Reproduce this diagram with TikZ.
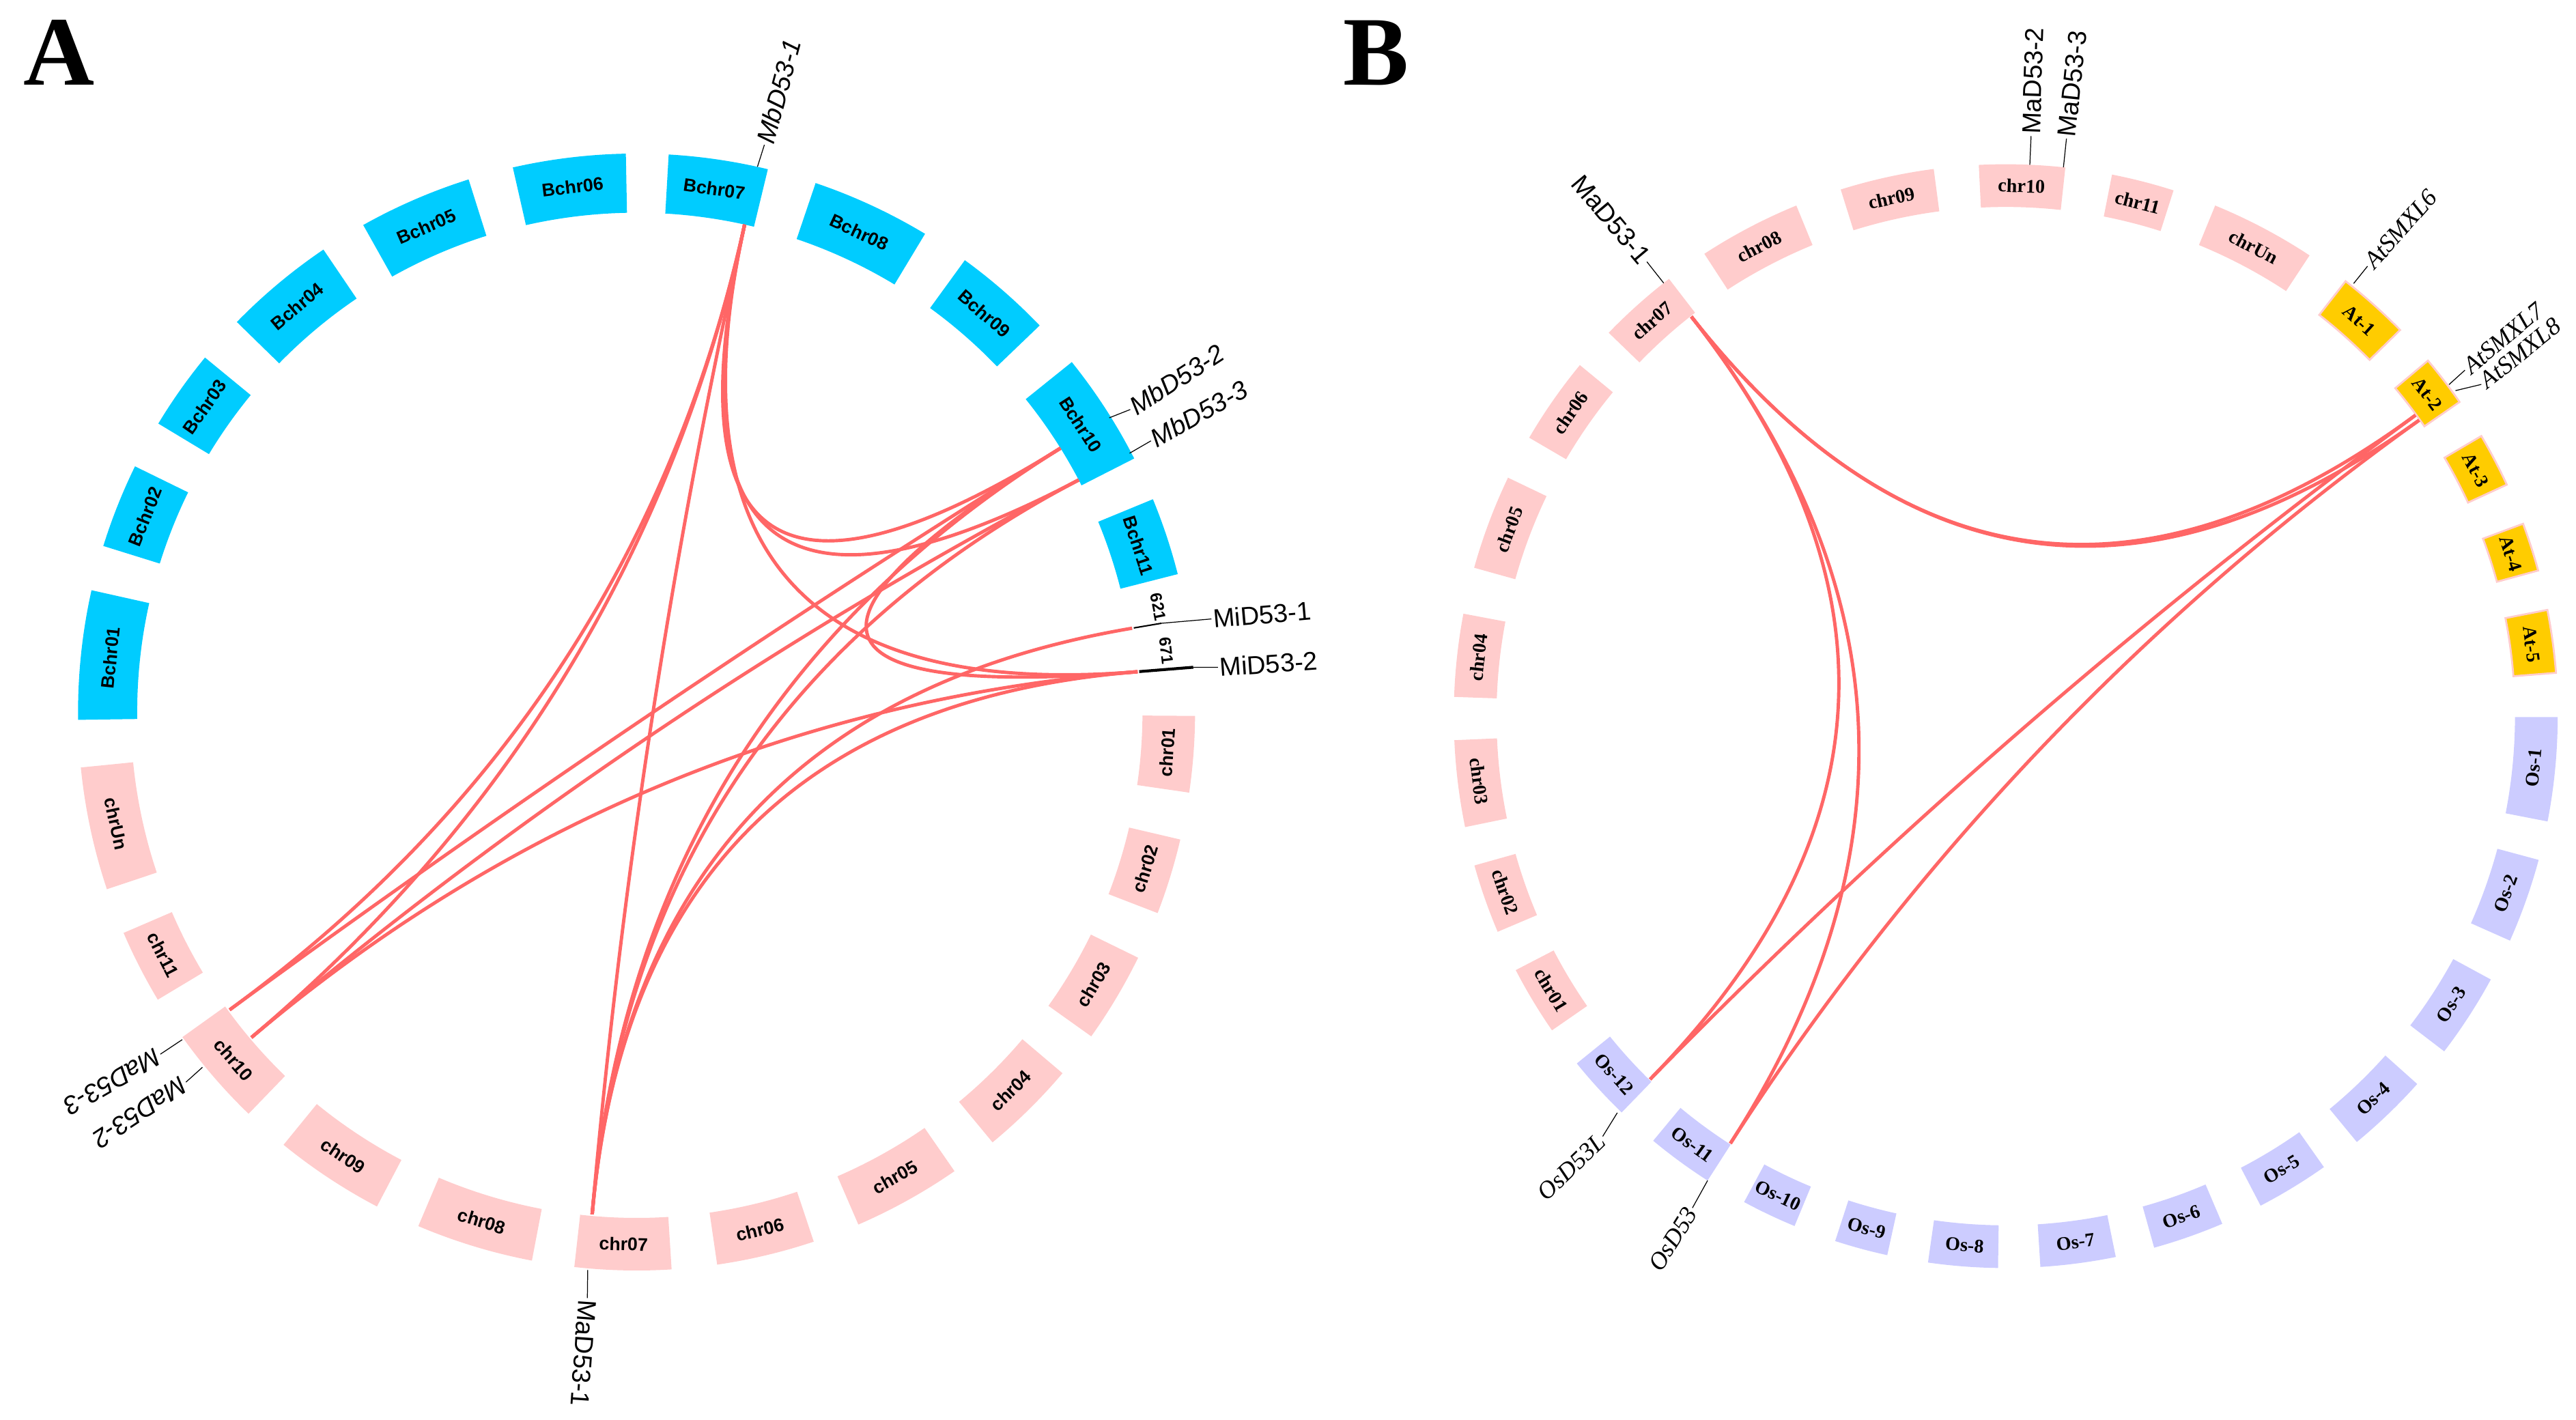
\documentclass[tikz,border=0pt]{standalone}
\usepackage{fontspec}
\setmainfont{Liberation Serif}
\setsansfont{Liberation Sans}
\usetikzlibrary{calc}
\definecolor{bcyan}{HTML}{00CCFF}
\definecolor{cpink}{HTML}{FFCCCC}
\definecolor{atyel}{HTML}{FFCC00}
\definecolor{oslav}{HTML}{CCCCFF}
\definecolor{lnkred}{HTML}{FF6666}
% #1 name #2 a1 #3 a2 #4 rin #5 rout #6 fill style #7 label style #8 text
\newcommand\ringseg[8]{%
  \path[#6] (#2:#4) arc[start angle=#2,end angle=#3,radius=#4] -- (#3:#5) arc[start angle=#3,end angle=#2,radius=#5] -- cycle;
  \pgfmathsetmacro\segmid{(#2+#3)/2}%
  \pgfmathsetmacro\segrad{(#4+#5)/2}%
  \pgfmathsetmacro\segrot{mod(\segmid+720,360)<180 ? \segmid-90 : \segmid+90}%
  \node[#7, rotate=\segrot] (#1) at (\segmid:\segrad) {#8};
}
\newcommand\glink[3]{\draw[linkline] (#1) .. controls ($(#1)!0.6667!(#3)$) and ($(#2)!0.6667!(#3)$) .. (#2);}
\begin{document}
\begin{tikzpicture}[x=0.02406cm,y=0.02406cm,
  alab/.style={font=\sffamily\bfseries\fontsize{7.6}{8}\selectfont, inner sep=0pt},
  blab/.style={font=\rmfamily\bfseries\fontsize{8}{9}\selectfont, inner sep=0pt},
  linkline/.style={draw=lnkred, line width=1.4pt},
  tickline/.style={draw=black, line width=0.35pt},
  gsans/.style={font=\sffamily\fontsize{10.8}{12}\selectfont, inner sep=0.6pt},
  gsansit/.style={font=\sffamily\itshape\fontsize{10.8}{12}\selectfont, inner sep=0.6pt},
  gserif/.style={font=\rmfamily\itshape\fontsize{10.3}{12}\selectfont, inner sep=0.6pt},
  scaf/.style={font=\sffamily\bfseries\fontsize{6.8}{7}\selectfont, inner sep=0pt},
  panel/.style={font=\rmfamily\bfseries\fontsize{41}{45}\selectfont, inner sep=0pt},
  atband/.style={fill=atyel, draw=cpink, line width=0.8pt},
  osband/.style={fill=oslav},
  pkband/.style={fill=cpink},
  cyband/.style={fill=bcyan}
]
\useasboundingbox (0,0) rectangle (1568.16,864.09);

\node[panel] (pA) at (35.8,831.9) {A};
\node[panel] (pB) at (837.5,831.9) {B};

% ================= Panel A =================
\begin{scope}[shift={(387.5,430.6)}]
\coordinate (OA) at (0,0);
\ringseg{Bchr01}{167.4}{180.8}{304}{340}{cyband}{alab}{Bchr01}
\ringseg{Bchr02}{153.9}{162.7}{304}{340}{cyband}{alab}{Bchr02}
\ringseg{Bchr03}{140.6}{148.9}{304}{340}{cyband}{alab}{Bchr03}
\ringseg{Bchr04}{124.1}{135.7}{304}{340}{cyband}{alab}{Bchr04}
\ringseg{Bchr05}{107.5}{119.3}{304}{340}{cyband}{alab}{Bchr05}
\ringseg{Bchr06}{91.1}{102.8}{304}{340}{cyband}{alab}{Bchr06}
\ringseg{Bchr07}{76.4}{86.7}{304}{340}{cyband}{alab}{Bchr07}
\ringseg{Bchr08}{58.9}{71.3}{304}{340}{cyband}{alab}{Bchr08}
\ringseg{Bchr09}{43.8}{54.0}{304}{340}{cyband}{alab}{Bchr09}
\ringseg{Bchr10}{27.0}{38.8}{304}{340}{cyband}{alab}{Bchr10}
\ringseg{Bchr11}{14.3}{22.4}{304}{340}{cyband}{alab}{Bchr11}
\ringseg{Achr01}{-8.3}{-0.4}{308}{340}{pkband}{alab}{chr01}
\ringseg{Achr02}{-21.1}{-13.2}{308}{340}{pkband}{alab}{chr02}
\ringseg{Achr03}{-35.5}{-26.1}{308}{340}{pkband}{alab}{chr03}
\ringseg{Achr04}{-50.4}{-40.3}{308}{340}{pkband}{alab}{chr04}
\ringseg{Achr05}{-66.6}{-55.3}{308}{340}{pkband}{alab}{chr05}
\ringseg{Achr06}{-81.7}{-71.5}{308}{340}{pkband}{alab}{chr06}
\ringseg{Achr07}{-96.4}{-86.4}{308}{340}{pkband}{alab}{chr07}
\ringseg{Achr08}{-113}{-100.8}{308}{340}{pkband}{alab}{chr08}
\ringseg{Achr09}{-129.2}{-117.7}{308}{340}{pkband}{alab}{chr09}
\ringseg{Achr10}{-144.4}{-134}{308}{340}{pkband}{alab}{chr10}
\ringseg{Achr11}{-156.7}{-149}{308}{340}{pkband}{alab}{chr11}
\ringseg{AchrUn}{-174.3}{-161.5}{308}{340}{pkband}{alab}{chrUn}

% scaffolds 621 / 671
\draw[black, line width=0.6pt] (9.6:307) -- (9.6:324);
\draw[black, line width=1.2pt] (4.6:307) -- (4.6:340);
\node[scaf, rotate=-78.6] (s621) at (11.4:324) {621};
\node[scaf, rotate=-83.4] (s671) at (6.6:324.6) {671};

% gene positions
\coordinate (b7) at (77.5:304);
\coordinate (b10a) at (31.9:304);
\coordinate (b10b) at (27.7:304);
\coordinate (m1) at (9.6:306);
\coordinate (m2) at (4.6:306);
\coordinate (a1) at (-95.05:307);
\coordinate (a3) at (-143.8:307);
\coordinate (a2) at (-139.8:307);

\glink{b7}{b10a}{OA}
\glink{b7}{b10b}{OA}
\glink{b7}{a3}{OA}
\glink{b7}{a2}{OA}
\glink{b7}{a1}{OA}
\glink{b7}{m2}{OA}
\glink{b10a}{a3}{OA}
\glink{b10a}{a1}{OA}
\glink{b10a}{m2}{OA}
\glink{b10b}{a2}{OA}
\glink{b10b}{a1}{OA}
\glink{m1}{a1}{OA}
\glink{m2}{a1}{OA}
\glink{m2}{a2}{OA}

% labels
\coordinate (tMb1) at (77.5:340);
\node[gsansit, anchor=west, rotate=75] (lMb1) at (77.3:354) {MbD53-1};
\draw[tickline] (tMb1) -- (lMb1.west);
\coordinate (tMb2) at (31.9:339);
\node[gsansit, anchor=west, rotate=33] (lMb2) at (31.5:352.5) {MbD53-2};
\draw[tickline] (tMb2) -- (lMb2.west);
\coordinate (tMb3) at (27.7:339);
\node[gsansit, anchor=west, rotate=29.5] (lMb3) at (27.8:354) {MbD53-3};
\draw[tickline] (tMb3) -- (lMb3.west);
\coordinate (tMi1) at (9.6:324);
\node[gsans, anchor=west, rotate=5] (lMi1) at (9.2:354.5) {MiD53-1};
\draw[tickline] (tMi1) -- (lMi1.west);
\coordinate (tMi2) at (4.6:340);
\node[gsans, anchor=west, rotate=4] (lMi2) at (4.4:355) {MiD53-2};
\draw[tickline] (tMi2) -- (lMi2.west);
\coordinate (tMa1) at (-95:341);
\node[gsans, anchor=west, rotate=-94] (lMa1) at (-94.8:358) {MaD53-1};
\draw[tickline] (tMa1) -- (lMa1.west);
\coordinate (tMa3) at (-144.2:341);
\node[gsansit, anchor=west, rotate=-150] (lMa3) at (-144.3:357) {MaD53-3};
\draw[tickline] (tMa3) -- (lMa3.west);
\coordinate (tMa2) at (-140.7:341.5);
\node[gsansit, anchor=west, rotate=-146.6] (lMa2) at (-140.6:355) {MaD53-2};
\draw[tickline] (tMa2) -- (lMa2.west);
\end{scope}

% ================= Panel B =================
\begin{scope}[shift={(1221,428.1)}]
\coordinate (OB) at (0,0);
\ringseg{Bc10}{83.8}{92.8}{310}{336}{pkband}{blab}{chr10}
\ringseg{Bc09}{97.5}{107.4}{310}{336}{pkband}{blab}{chr09}
\ringseg{Bc11}{72.3}{78.9}{310}{336}{pkband}{blab}{chr11}
\ringseg{BcUn}{56.6}{67.7}{310}{336}{pkband}{blab}{chrUn}
\ringseg{Bc08}{112.3}{123.1}{310}{336}{pkband}{blab}{chr08}
\ringseg{Bc07}{127.6}{136.0}{310}{336}{pkband}{blab}{chr07}
\ringseg{Bc06}{140.5}{149.7}{310}{336}{pkband}{blab}{chr06}
\ringseg{Bc05}{154.4}{164.4}{310}{336}{pkband}{blab}{chr05}
\ringseg{Bc04}{169.3}{178.0}{310}{336}{pkband}{blab}{chr04}
\ringseg{Bc03}{182.5}{191.6}{310}{336}{pkband}{blab}{chr03}
\ringseg{Bc02}{195.7}{203.0}{310}{336}{pkband}{blab}{chr02}
\ringseg{Bc01}{207.4}{214.7}{310}{336}{pkband}{blab}{chr01}
\ringseg{Os12}{219}{225.9}{310}{336}{osband}{blab}{Os-12}
\ringseg{Os11}{230.3}{237.3}{310}{336}{osband}{blab}{Os-11}
\ringseg{Os10}{241.7}{247.5}{310}{336}{osband}{blab}{Os-10}
\ringseg{Os9}{252}{257.6}{310}{336}{osband}{blab}{Os-9}
\ringseg{Os8}{261.9}{269.2}{310}{336}{osband}{blab}{Os-8}
\ringseg{Os7}{273.6}{281.5}{310}{336}{osband}{blab}{Os-7}
\ringseg{Os6}{285.6}{293.1}{310}{336}{osband}{blab}{Os-6}
\ringseg{Os5}{297.5}{305.2}{310}{336}{osband}{blab}{Os-5}
\ringseg{Os4}{309.5}{318.2}{310}{336}{osband}{blab}{Os-4}
\ringseg{Os3}{322.6}{331.5}{310}{336}{osband}{blab}{Os-3}
\ringseg{Os2}{336}{344.9}{310}{336}{osband}{blab}{Os-2}
\ringseg{Os1}{349}{359.9}{310}{336}{osband}{blab}{Os-1}
\ringseg{At5}{4.5}{11.1}{310}{336}{atband}{blab}{At-5}
\ringseg{At4}{15.3}{20.4}{310}{336}{atband}{blab}{At-4}
\ringseg{At3}{24.8}{30.5}{310}{336}{atband}{blab}{At-3}
\ringseg{At2}{34.7}{40.1}{310}{336}{atband}{blab}{At-2}
\ringseg{At1}{44.4}{52}{310}{336}{atband}{blab}{At-1}

\coordinate (g07) at (128.2:309.5);
\coordinate (gat7) at (36.3:309.5);
\coordinate (gat8) at (35.6:309.5);
\coordinate (gos12) at (225.6:309.5);
\coordinate (gos11) at (237.2:309.5);

\glink{g07}{gat7}{OB}
\glink{g07}{gat8}{OB}
\glink{g07}{gos12}{OB}
\glink{g07}{gos11}{OB}
\glink{gat7}{gos12}{OB}
\glink{gat8}{gos11}{OB}

\coordinate (tB1) at (128.3:336);
\node[gsans, anchor=east, rotate=-50] (lB1) at (128.3:352.5) {MaD53-1};
\draw[tickline] (tB1) -- (lB1.east);
\coordinate (tB2) at (87.5:336);
\node[gsans, anchor=west, rotate=88] (lB2) at (87.5:353.5) {MaD53-2};
\draw[tickline] (tB2) -- (lB2.west);
\coordinate (tB3) at (84:336);
\node[gsans, anchor=west, rotate=84] (lB3) at (84:353.5) {MaD53-3};
\draw[tickline] (tB3) -- (lB3.west);
\coordinate (tAt6) at (51.2:338);
\node[gserif, anchor=west, rotate=48.3] (lAt6) at (51.2:351.5) {AtSMXL6};
\draw[tickline] (tAt6) -- (lAt6.west);
\coordinate (tAt7) at (36.8:337);
\node[gserif, anchor=west, rotate=39.7] (lAt7) at (37.0:350) {AtSMXL7};
\draw[tickline] (tAt7) -- (lAt7.west);
\coordinate (tAt8) at (35.9:338);
\node[gserif, anchor=west, rotate=38.7] (lAt8) at (34.9:353) {AtSMXL8};
\draw[tickline] (tAt8) -- (lAt8.west);
\coordinate (tOsL) at (225.6:338);
\node[gserif, anchor=east, rotate=44] (lOsL) at (226.2:354.5) {OsD53L};
\draw[tickline] (tOsL) -- (lOsL.east);
\coordinate (tOs) at (237.3:336);
\node[gserif, anchor=east, rotate=58] (lOs) at (237.5:355) {OsD53};
\draw[tickline] (tOs) -- (lOs.east);
\end{scope}
\end{tikzpicture}
\end{document}
